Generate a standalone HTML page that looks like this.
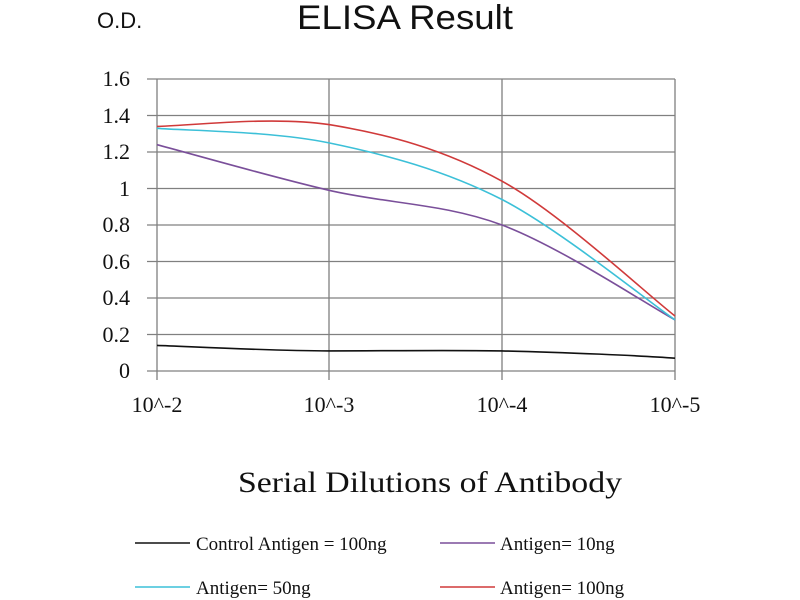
<!DOCTYPE html>
<html><head><meta charset="utf-8"><style>
html,body{margin:0;padding:0;background:#fff;width:800px;height:600px;overflow:hidden}
</style></head><body>
<svg width="800" height="600" xmlns="http://www.w3.org/2000/svg">
<rect width="800" height="600" fill="#fff"/>
<text x="97" y="28" font-family="Liberation Sans, sans-serif" font-size="22" fill="#111">O.D.</text>
<text x="297" y="29" textLength="216" lengthAdjust="spacingAndGlyphs" font-family="Liberation Sans, sans-serif" font-size="34" fill="#111">ELISA Result</text>
<g stroke="#808080" stroke-width="1.3">
<line x1="147" y1="79" x2="675" y2="79"/>
<line x1="147" y1="115.5" x2="675" y2="115.5"/>
<line x1="147" y1="152" x2="675" y2="152"/>
<line x1="147" y1="188.5" x2="675" y2="188.5"/>
<line x1="147" y1="225" x2="675" y2="225"/>
<line x1="147" y1="261.5" x2="675" y2="261.5"/>
<line x1="147" y1="298" x2="675" y2="298"/>
<line x1="147" y1="334.5" x2="675" y2="334.5"/>
<line x1="147" y1="371" x2="675" y2="371"/>
<line x1="157" y1="79" x2="157" y2="380"/>
<line x1="329" y1="79" x2="329" y2="380"/>
<line x1="502" y1="79" x2="502" y2="380"/>
<line x1="675" y1="79" x2="675" y2="380"/>
</g>
<g font-family="Liberation Serif, serif" font-size="22" fill="#111" text-anchor="end">
<text x="130" y="86">1.6</text><text x="130" y="123">1.4</text><text x="130" y="159">1.2</text>
<text x="130" y="196">1</text><text x="130" y="232">0.8</text><text x="130" y="269">0.6</text>
<text x="130" y="305">0.4</text><text x="130" y="342">0.2</text><text x="130" y="378">0</text>
</g>
<g font-family="Liberation Serif, serif" font-size="22" fill="#111" text-anchor="middle">
<text x="157" y="412">10^-2</text><text x="329" y="412">10^-3</text><text x="502" y="412">10^-4</text><text x="675" y="412">10^-5</text>
</g>
<g fill="none" stroke-width="1.6">
<path d="M157,345.4 C186,346.3 271,350.9 329,350.9 C386,350.9 444,350 502,350.9 C560,352 646,356 675,358.2" stroke="#111"/>
<path d="M157,144.7 C186,152.3 271.5,176.9 329,190.3 C386.5,203.7 444,203.4 502,225 C559.7,246.6 646,304 675,319.9" stroke="#7a4f9a"/>
<path d="M157,128.3 C186,130.7 271.5,131 329,142.9 C386.5,154.8 444,170 502,199.5 C559.7,229.5 646,299.9 675,319.9" stroke="#3cc0d8"/>
<path d="M157,126.4 C186,126 271.5,115.8 329,124.6 C386.5,134 444,149 502,181.2 C559.7,212.8 646,293.5 675,316" stroke="#d03a3a"/>
</g>
<text x="238" y="492" textLength="384" lengthAdjust="spacingAndGlyphs" font-family="Liberation Serif, serif" font-size="30" fill="#111">Serial Dilutions of Antibody</text>
<g font-family="Liberation Serif, serif" font-size="19" fill="#111">
<line x1="135" y1="543" x2="190" y2="543" stroke="#111" stroke-width="1.6"/>
<text x="196" y="550">Control Antigen = 100ng</text>
<line x1="440" y1="543" x2="495" y2="543" stroke="#7a4f9a" stroke-width="1.6"/>
<text x="500" y="550">Antigen= 10ng</text>
<line x1="135" y1="587" x2="190" y2="587" stroke="#3cc0d8" stroke-width="1.6"/>
<text x="196" y="594">Antigen= 50ng</text>
<line x1="440" y1="587" x2="495" y2="587" stroke="#d03a3a" stroke-width="1.6"/>
<text x="500" y="594">Antigen= 100ng</text>
</g>
</svg>
</body></html>
